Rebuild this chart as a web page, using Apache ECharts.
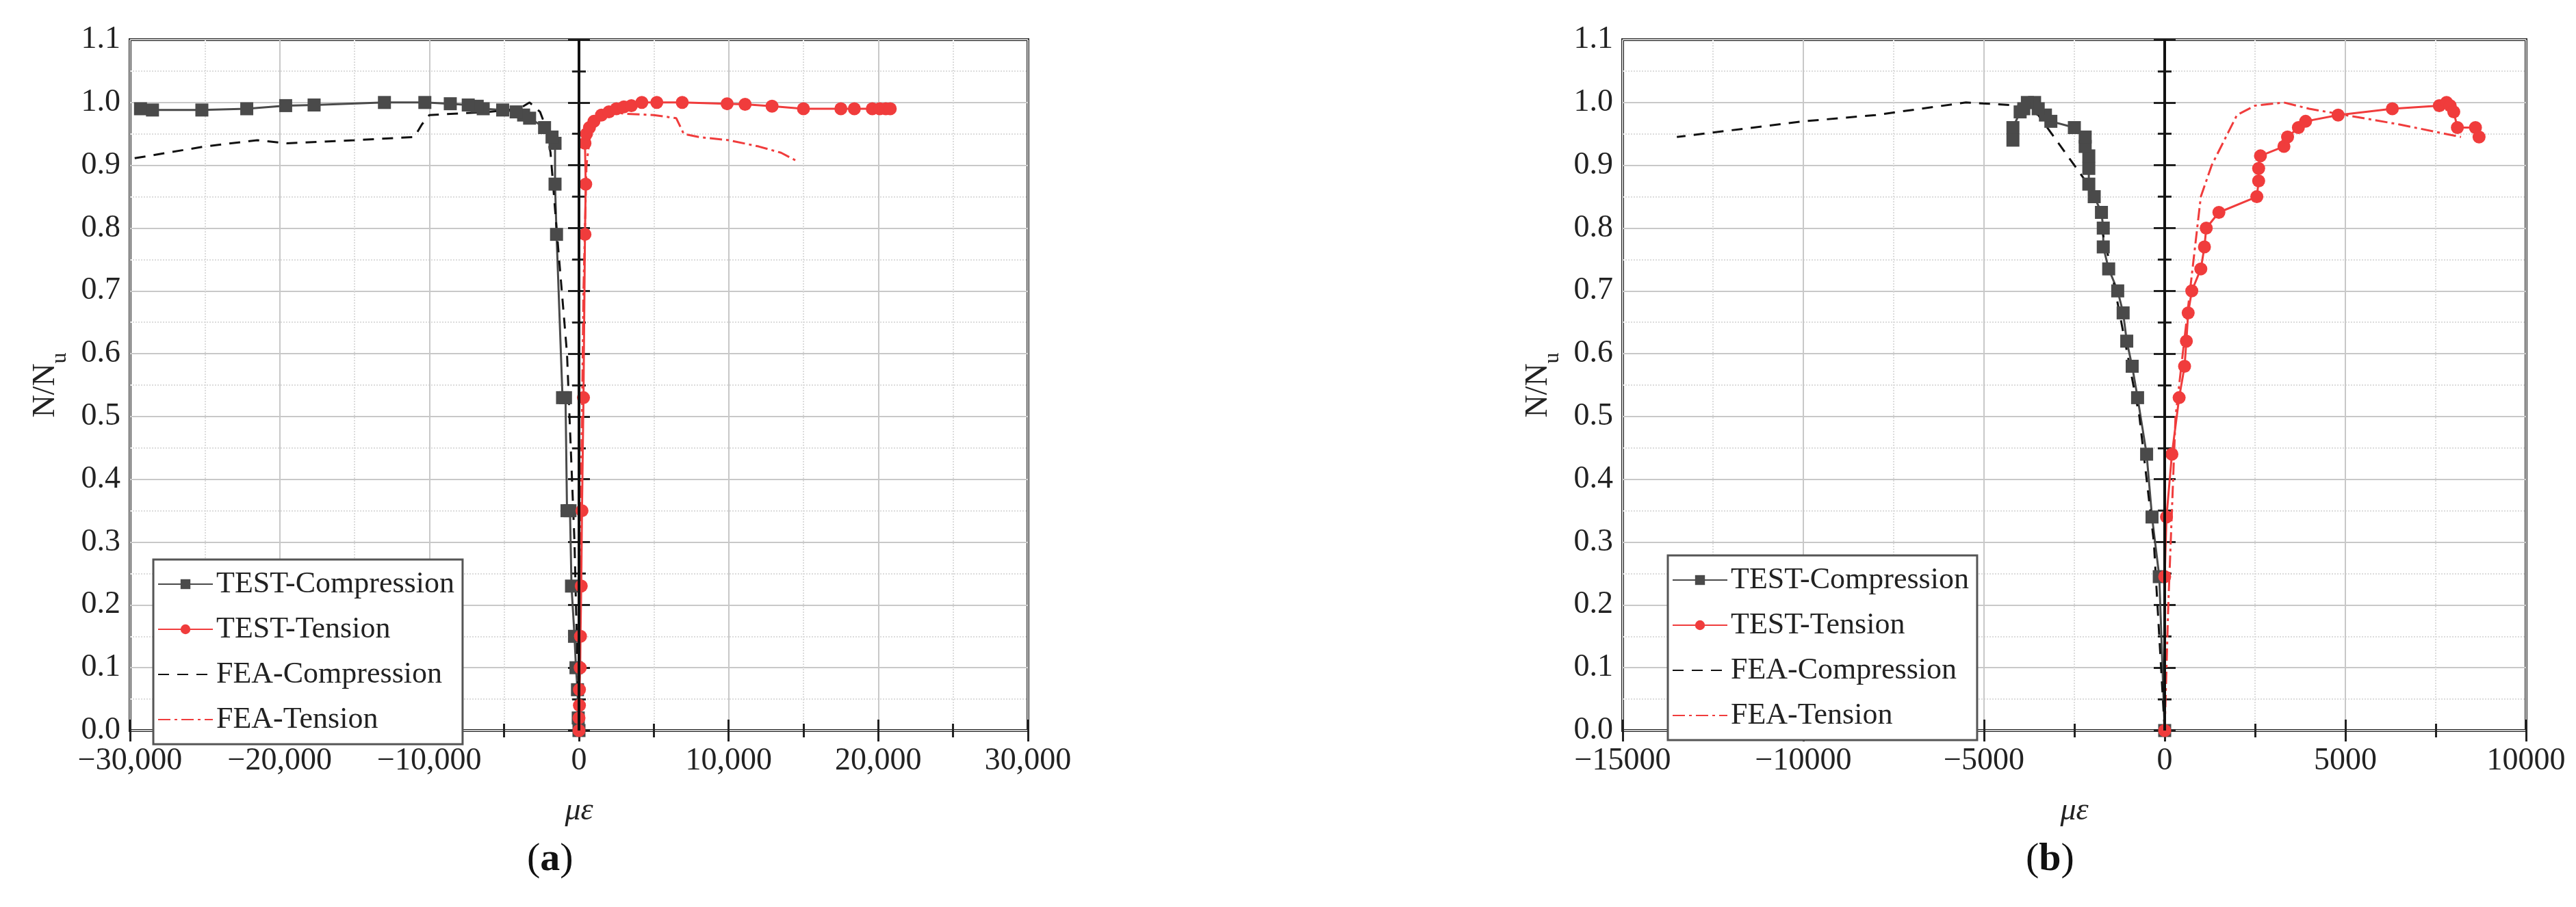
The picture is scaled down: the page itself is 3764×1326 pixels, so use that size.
<!DOCTYPE html>
<html><head><meta charset="utf-8">
<script src="https://cdn.jsdelivr.net/npm/echarts@6/dist/echarts.min.js"></script>
<style>html,body{margin:0;background:#fff}#c{width:3764px;height:1326px}</style>
</head><body><div id="c"></div>
<script>
// panel (a) data: [strain, N/Nu]
const aTestComp = [[0,0],[-50,0.02],[-100,0.065],[-200,0.10],[-300,0.15],[-500,0.23],[-600,0.35],[-800,0.35],[-900,0.53],[-1100,0.53],[-1500,0.79],[-1600,0.87],[-1600,0.935],[-1800,0.945],[-2300,0.96],[-3300,0.975],[-3700,0.98],[-4200,0.985],[-5100,0.988],[-6400,0.99],[-6800,0.994],[-7400,0.996],[-8600,0.998],[-10300,1.0],[-13000,1.0],[-17700,0.996],[-19600,0.995],[-22200,0.99],[-25200,0.988],[-28500,0.988],[-29300,0.99]];
const aTestTens = [[0,0],[0,0.02],[30,0.04],[30,0.065],[80,0.10],[100,0.15],[150,0.23],[200,0.35],[300,0.53],[400,0.79],[450,0.87],[400,0.935],[500,0.95],[700,0.96],[1000,0.97],[1500,0.98],[2000,0.985],[2500,0.99],[3000,0.993],[3500,0.995],[4200,1.0],[5200,1.0],[6900,1.0],[9900,0.998],[11100,0.997],[12900,0.994],[15000,0.99],[17500,0.99],[18400,0.99],[19600,0.99],[20100,0.99],[20500,0.99],[20800,0.99]];
const aFeaComp = [[0,0],[-300,0.3],[-800,0.6],[-1500,0.8],[-1900,0.92],[-2200,0.96],[-2600,0.985],[-3300,1.0],[-4000,0.99],[-6000,0.985],[-10000,0.98],[-10500,0.965],[-11000,0.945],[-15000,0.94],[-19500,0.935],[-21500,0.94],[-25000,0.93],[-30000,0.91]];
const aFeaTens = [[0,0],[100,0.3],[300,0.7],[500,0.9],[800,0.96],[1500,0.99],[3000,0.982],[5000,0.98],[6500,0.975],[7000,0.95],[8000,0.945],[10000,0.94],[12000,0.93],[13500,0.92],[14700,0.905]];
// panel (b) data
const bTestComp = [[0,0],[-150,0.245],[-350,0.34],[-500,0.44],[-750,0.53],[-900,0.58],[-1050,0.62],[-1150,0.665],[-1300,0.70],[-1550,0.735],[-1700,0.77],[-1700,0.80],[-1750,0.825],[-1950,0.85],[-2100,0.87],[-2100,0.895],[-2100,0.915],[-2200,0.93],[-2200,0.945],[-2500,0.96],[-3150,0.97],[-3300,0.98],[-3500,0.99],[-3600,1.0],[-3800,1.0],[-3900,0.99],[-4000,0.985],[-4200,0.96],[-4200,0.94]];
const bTestTens = [[0,0],[0,0.245],[50,0.34],[200,0.44],[400,0.53],[550,0.58],[600,0.62],[650,0.665],[750,0.70],[1000,0.735],[1100,0.77],[1150,0.80],[1500,0.825],[2550,0.85],[2600,0.875],[2600,0.895],[2650,0.915],[3300,0.93],[3400,0.945],[3700,0.96],[3900,0.97],[4800,0.98],[6300,0.99],[7600,0.995],[7800,1.0],[7900,0.995],[8000,0.985],[8100,0.96],[8600,0.96],[8700,0.945]];
const bFeaComp = [[0,0],[-300,0.3],[-700,0.5],[-1100,0.62],[-1500,0.74],[-2000,0.86],[-2500,0.9],[-3500,0.98],[-4000,0.995],[-5500,1.0],[-8000,0.98],[-10000,0.97],[-13500,0.945]];
const bFeaTens = [[0,0],[100,0.2],[300,0.5],[700,0.7],[1000,0.85],[1300,0.9],[2000,0.98],[2500,0.995],[3300,1.0],[4000,0.99],[5000,0.98],[6500,0.965],[8200,0.945]];

const names = ['TEST-Compression','TEST-Tension','FEA-Compression','FEA-Tension'];

const FONT = '"Liberation Serif", "DejaVu Serif", serif';
const GRAY = '#4a4a4a', RED = '#f03c3c';

function fmtA(v){ return v === 0 ? '0' : (v < 0 ? '\u2212' : '') + Math.abs(v).toLocaleString('en-US'); }
function fmtB(v){ return v === 0 ? '0' : (v < 0 ? '\u2212' : '') + Math.abs(v); }

function panel(i, left, xr, fmt, data, legendPos){
  const grid = {left:left, width:xr.w, top:58, height:1010, show:true, borderColor:'#222', borderWidth:4, backgroundColor:'transparent'};
  const tick = {inside:true,length:16,lineStyle:{width:3,color:'#222'}};
  const minor = {show:true,splitNumber:2,length:10,lineStyle:{width:3,color:'#222'}};
  const xAxis = {gridIndex:i, type:'value', min:xr.min, max:xr.max, interval:xr.step,
    axisLine:{show:false}, axisTick:tick, minorTick:minor,
    splitLine:{show:true,lineStyle:{color:'#c8c8c8',width:2}},
    minorSplitLine:{show:true,lineStyle:{color:'#dcdcdc',type:'dotted',width:2}},
    axisLabel:{fontFamily:FONT,fontSize:46,color:'#222',margin:22,formatter:fmt},
    name:'με', nameLocation:'middle', nameGap:95,
    nameTextStyle:{fontFamily:FONT,fontSize:46,fontStyle:'italic',color:'#222'}};
  const yAxis = {gridIndex:i, type:'value', min:0, max:1.1, interval:0.1,
    axisLine:{show:false}, axisTick:tick, minorTick:minor,
    splitLine:{show:true,lineStyle:{color:'#c8c8c8',width:2}},
    minorSplitLine:{show:true,lineStyle:{color:'#dcdcdc',type:'dotted',width:2}},
    axisLabel:{fontFamily:FONT,fontSize:46,color:'#222',margin:14,formatter:v=>v.toFixed(1)},
    name:'{n|N/N}{s|u}', nameLocation:'middle', nameGap:100, nameRotate:90,
    nameTextStyle:{rich:{n:{fontFamily:FONT,fontSize:46,color:'#222'},s:{fontFamily:FONT,fontSize:32,color:'#222',verticalAlign:'bottom',padding:[0,0,-14,0]}}}};
  const yAxisR = Object.assign({}, yAxis, {gridIndex:i, position:'right', axisLabel:{show:false}, name:'', splitLine:{show:false}, minorSplitLine:{show:false}});
  const xAxisT = Object.assign({}, xAxis, {gridIndex:i, position:'top', axisLabel:{show:false}, name:'', splitLine:{show:false}, minorSplitLine:{show:false}});
  const base = {xAxisIndex:2*i, yAxisIndex:2*i, type:'line', animation:false};
  const series = [
    Object.assign({}, base, {name:names[0], data:data[0], symbol:'rect', symbolSize:19, itemStyle:{color:GRAY}, lineStyle:{color:GRAY,width:3},
      markLine:{silent:true, symbol:'none', label:{show:false}, lineStyle:{color:'#111',width:4,type:'solid'}, data:[{xAxis:0}]}}),
    Object.assign({}, base, {name:names[1], data:data[1], symbol:'circle', symbolSize:19, itemStyle:{color:RED}, lineStyle:{color:RED,width:3}}),
    Object.assign({}, base, {name:names[2], data:data[2], symbol:'none', itemStyle:{color:'#111'}, lineStyle:{color:'#111',width:3,type:[16,12]}}),
    Object.assign({}, base, {name:names[3], data:data[3], symbol:'none', itemStyle:{color:RED}, lineStyle:{color:RED,width:3,type:[18,6,4,6]}})
  ];
  const legend = {orient:'vertical', left:legendPos[0], top:legendPos[1],
    data:[names[0], names[1], {name:names[2], itemStyle:{opacity:0}}, {name:names[3], itemStyle:{opacity:0}}],
    itemWidth:80, itemHeight:18, itemGap:22,
    padding:[14,12,14,6], borderColor:'#555', borderWidth:3, backgroundColor:'#fff',
    textStyle:{fontFamily:FONT,fontSize:44,color:'#222'}, selectedMode:false};
  return {grid, xAxis:[xAxis,xAxisT], yAxis:[yAxis,yAxisR], series, legend};
}

const pa = panel(0, 190, {min:-30000,max:30000,step:10000,w:1312}, fmtA, [aTestComp,aTestTens,aFeaComp,aFeaTens], [224,818]);
const pb = panel(1, 2371, {min:-15000,max:10000,step:5000,w:1320}, fmtB, [bTestComp,bTestTens,bFeaComp,bFeaTens], [2437,812]);

const chart = echarts.init(document.getElementById('c'));
chart.setOption({
  backgroundColor:'#fff',
  grid:[pa.grid, pb.grid],
  xAxis:[...pa.xAxis, ...pb.xAxis],
  yAxis:[...pa.yAxis, ...pb.yAxis],
  legend:[pa.legend, pb.legend],
  series:[...pa.series, ...pb.series],
  graphic:[
    {type:'text', left:770, top:1228, style:{text:'({l|a})', rich:{l:{fontFamily:FONT,fontSize:58,fontWeight:'bold',fill:'#111'}}, fontFamily:FONT, fontSize:58, fill:'#111'}},
    {type:'text', left:2960, top:1228, style:{text:'({l|b})', rich:{l:{fontFamily:FONT,fontSize:58,fontWeight:'bold',fill:'#111'}}, fontFamily:FONT, fontSize:58, fill:'#111'}}
  ]
});
</script></body></html>
